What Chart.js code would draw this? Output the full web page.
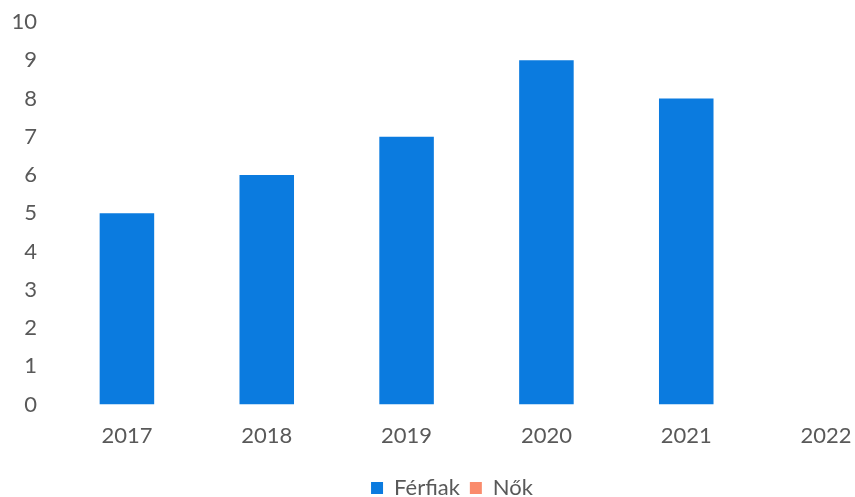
<!DOCTYPE html>
<html>
<head>
<meta charset="utf-8">
<script src="https://cdn.jsdelivr.net/npm/chart.js@4"></script>
<style>
  html, body { margin: 0; padding: 0; background: #fff; overflow: hidden; }
  #wrap { width: 928px; height: 497px; }
</style>
</head>
<body>
<div id="wrap"><canvas id="myChart"></canvas></div>
<script>
// adatok
const years = ['2017', '2018', '2019', '2020', '2021', '2022'];
const ferfiak = [5, 6, 7, 9, 8, 0];
const nok = [0, 0, 0, 0, 0, 0];
const yTicks = [0, 1, 2, 3, 4, 5, 6, 7, 8, 9, 10];

const ctx = document.getElementById('myChart');
new Chart(ctx, {
    type: 'bar',
    data: {
        labels: years,
        datasets: [{
            label: 'Férfiak',
            data: ferfiak,
            backgroundColor: '#0B7BDF',
            categoryPercentage: 1,
            barPercentage: 0.39
        }, {
            label: 'Nők',
            data: nok,
            backgroundColor: '#FA8B6C',
            categoryPercentage: 1,
            barPercentage: 0.39
        }]
    },
    options: {
        responsive: true,
        maintainAspectRatio: false,
        animation: false,
        layout: { padding: { left: 8, top: 22, right: 32, bottom: -12 } },
        plugins: {
            tooltip: { enabled: false },
            legend: {
                position: 'bottom',
                labels: {
                    boxWidth: 12,
                    boxHeight: 12,
                    padding: 10,
                    color: '#595959',
                    font: { family: 'Lato', size: 22 }
                }
            }
        },
        scales: {
            x: {
                stacked: true,
                grid: { display: false, drawTicks: false },
                border: { display: false },
                ticks: { color: '#595959', padding: 18, font: { family: 'Lato', size: 22 } }
            },
            y: {
                stacked: true,
                min: yTicks[0],
                max: yTicks[yTicks.length - 1],
                afterFit: function (scale) {
                    scale.width = 49;
                    scale.paddingTop = 0;
                    scale.paddingBottom = 0;
                },
                grid: { display: false, drawTicks: false },
                border: { display: false },
                ticks: { stepSize: 1, color: '#595959', padding: 20, font: { family: 'Lato', size: 22 } }
            }
        }
    }
});
</script>
</body>
</html>
